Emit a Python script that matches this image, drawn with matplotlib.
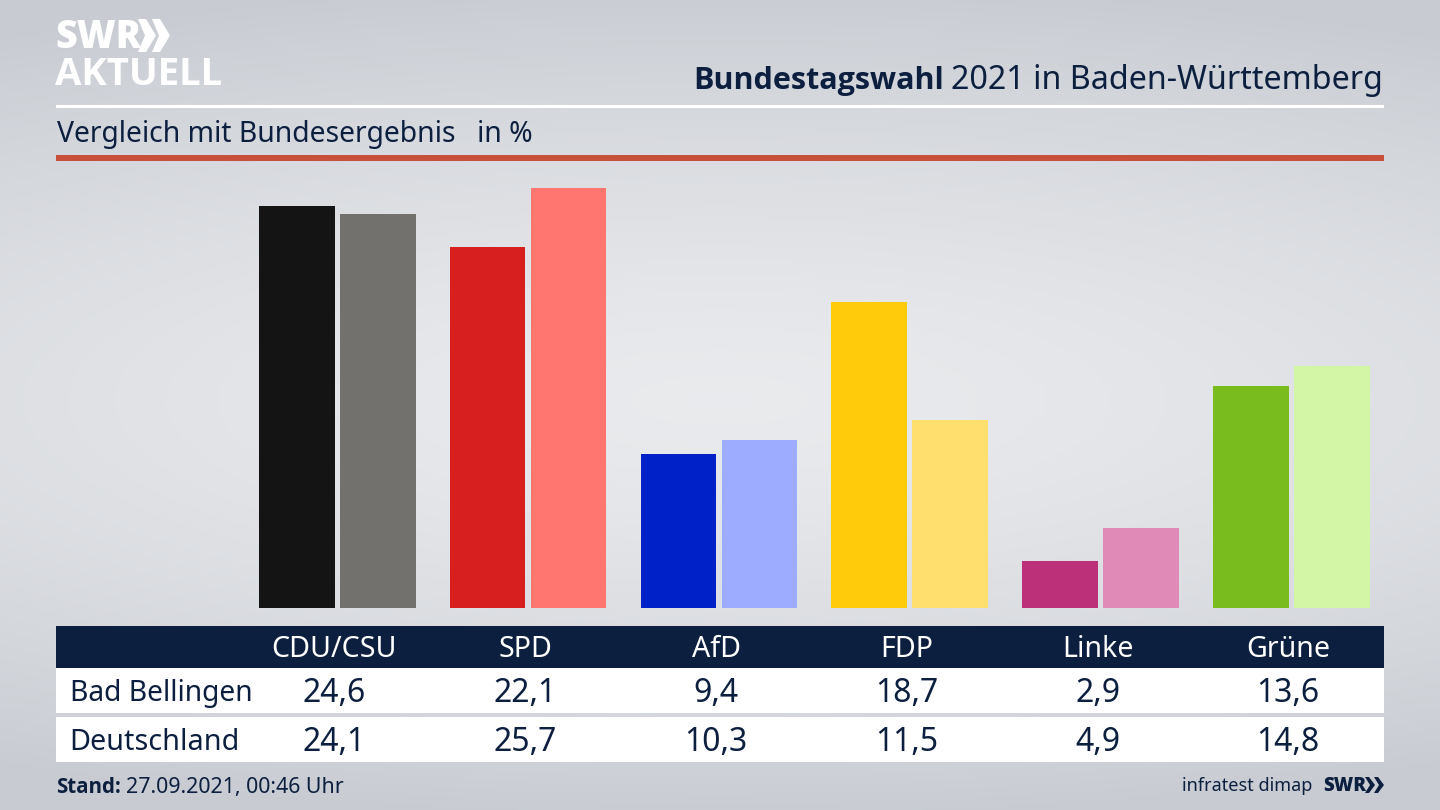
import numpy as np
import matplotlib
matplotlib.use("Agg")
import matplotlib.pyplot as plt
from matplotlib.patches import Polygon, Rectangle

parties = ["CDU/CSU", "SPD", "AfD", "FDP", "Linke", "Grüne"]
bad_bellingen = [24.6, 22.1, 9.4, 18.7, 2.9, 13.6]
deutschland = [24.1, 25.7, 10.3, 11.5, 4.9, 14.8]
labels_bb = ["24,6", "22,1", "9,4", "18,7", "2,9", "13,6"]
labels_de = ["24,1", "25,7", "10,3", "11,5", "4,9", "14,8"]
colors_bb = ["#141414", "#d71f1f", "#0021c8", "#ffcb0a", "#bb3078", "#78bc1e"]
colors_de = ["#73716e", "#ff7570", "#9eacff", "#ffe06e", "#e08ab8", "#d3f6a6"]

NAVY = "#0c1f3f"
plt.rcParams["font.family"] = ["Noto Sans", "DejaVu Sans"]
BOLD = ["Open Sans", "DejaVu Sans"]

W, H = 1440, 810
fig = plt.figure(figsize=(W / 100, H / 100), dpi=100)

# page layer in pixel coordinates
bg = fig.add_axes([0, 0, 1, 1])
bg.set_xlim(0, W)
bg.set_ylim(H, 0)
bg.axis("off")
yy, xx = np.mgrid[0:H, 0:W]
d = np.sqrt(((xx - 720) / 1500.0) ** 2 + ((yy - 400) / 420.0) ** 2)
shade = np.clip(d, 0, 1) ** 1.4
c0, c1 = np.array([0.915, 0.92, 0.93]), np.array([0.785, 0.80, 0.825])
img = c0 + (c1 - c0) * shade[..., None]
bg.imshow(img, extent=(0, W, H, 0), aspect="auto", zorder=0)

# logo
bg.text(55, 37, "SWR", color="white", fontsize=27, fontweight="black", family=BOLD, va="center", ha="left")
for x0 in (138, 152):
    bg.add_patch(Polygon([(x0, 19), (x0 + 8, 19), (x0 + 18, 35.5), (x0 + 8, 52), (x0, 52), (x0 + 7, 35.5)], color="white", lw=0))
bg.text(55, 75, "AKTUELL", color="white", fontsize=27.5, fontweight="bold", family=BOLD, va="center", ha="left")

# header
bg.text(1383, 89, "2021 in Baden-Württemberg", color=NAVY, fontsize=23.2, ha="right", va="baseline")
bg.text(944, 89, "Bundestagswahl", color=NAVY, fontsize=22, fontweight="bold", family=BOLD, ha="right", va="baseline")
bg.add_patch(Rectangle((56, 105), 1328, 3, color="white", lw=0))
bg.text(57, 142, "Vergleich mit Bundesergebnis", color=NAVY, fontsize=20.4, va="baseline")
bg.text(477, 142, "in %", color=NAVY, fontsize=20.4, va="baseline")
bg.add_patch(Rectangle((56, 155), 1328, 5.5, color="#c94f3d", lw=0))

# table
bg.add_patch(Rectangle((56, 626), 1328, 42, color=NAVY, lw=0))
bg.add_patch(Rectangle((56, 668), 1328, 45, color="white", lw=0))
bg.add_patch(Rectangle((56, 717), 1328, 45, color="white", lw=0))
bg.text(70.5, 701, "Bad Bellingen", color=NAVY, fontsize=20.3, va="baseline")
bg.text(69.5, 750, "Deutschland", color=NAVY, fontsize=20.7, va="baseline")

# bars: x unit = one party group, y unit = one percent point
pitch = 190.8
left_px, right_px = 337.3 - pitch / 2, 1291.3 + pitch / 2
base_px, top_px = 608, 160
scale = 16.34
ax = fig.add_axes([left_px / W, 1 - base_px / H, (right_px - left_px) / W, (base_px - top_px) / H])
ax.set_xlim(-0.5, 5.5)
ax.set_ylim(0, (base_px - top_px) / scale)
ax.axis("off")
ax.patch.set_alpha(0)
x = np.arange(len(parties))
bw = 75.5 / pitch
off = 40.5 / pitch
ax.bar(x - off, bad_bellingen, bw, color=colors_bb)
ax.bar(x + off, deutschland, bw, color=colors_de)

for i, p in enumerate(parties):
    px = [334, 525, 716, 907, 1098, 1288][i]
    bg.text(px, 657, p, color="white", fontsize=20.6, ha="center", va="baseline")
    bg.text(px, 702, labels_bb[i], color=NAVY, fontsize=23, ha="center", va="baseline")
    bg.text(px, 751, labels_de[i], color=NAVY, fontsize=23, ha="center", va="baseline")

# footer
bg.text(56, 793, "Stand:", color=NAVY, fontsize=14.8, fontweight="bold", family=BOLD, va="baseline")
bg.text(126, 793, "27.09.2021, 00:46 Uhr", color=NAVY, fontsize=15.4, va="baseline")
bg.text(1312, 791, "infratest dimap", color=NAVY, fontsize=13, ha="right", va="baseline")
bg.text(1323, 786, "SWR", color=NAVY, fontsize=13.5, fontweight="black", family=BOLD, va="center")
for x0 in (1365, 1374):
    bg.add_patch(Polygon([(x0, 777), (x0 + 4, 777), (x0 + 10, 785), (x0 + 4, 793), (x0, 793), (x0 + 5, 785)], color=NAVY, lw=0))

fig.savefig("out.png", dpi=100)
